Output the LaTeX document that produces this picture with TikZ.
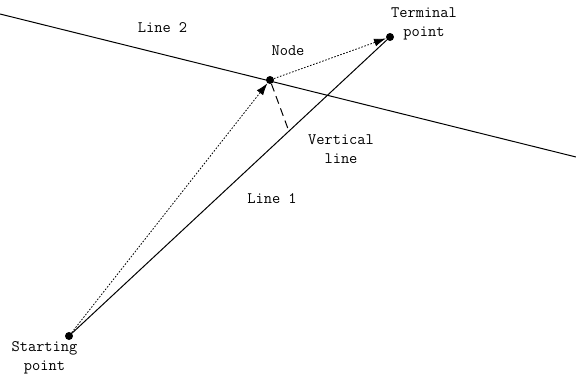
\documentclass[tikz,border=0pt]{standalone}
\usetikzlibrary{arrows.meta,calc}
\begin{document}
\begin{tikzpicture}[x=1pt,y=-1pt,
  dot/.style={circle,fill=black,inner sep=0pt,minimum size=8pt},
  lbl/.style={font=\ttfamily\fontsize{16}{19.5}\selectfont,align=center,inner sep=0pt},
  dotline/.style={line width=0.8pt,dash pattern=on 1.6pt off 1.6pt},
  tip/.style={-{Latex[length=12pt,width=8pt]}}]
\useasboundingbox (0,0) rectangle (576,375);
\node[dot] (S) at (69,336) {};
\node[dot] (T) at (390,37) {};
\node[dot] (N) at (270,80) {};
\coordinate (L2a) at (0,14);
\coordinate (L2b) at (576,157);
\coordinate (F) at ($(S)!0.685!(T)$);
\draw[line width=1pt] (L2a) -- (L2b);
\draw[line width=1pt] (S) -- (T);
\draw[dotline,tip] (S) -- (N);
\draw[dotline,tip] (N) -- (T);
\draw[line width=1pt,dash pattern=on 8pt off 5pt] (N) -- (F);
\node[lbl] (l2) at (162.5,28) {Line 2};
\node[lbl] (nl) at (288,51) {Node};
\node[lbl] (tl) at (424,24) {Terminal\\point};
\node[lbl] (vl) at (341,149) {Vertical\\line};
\node[lbl] (l1) at (272,199) {Line 1};
\node[lbl] (sl) at (44.5,358) {Starting\\point};
\end{tikzpicture}
\end{document}
